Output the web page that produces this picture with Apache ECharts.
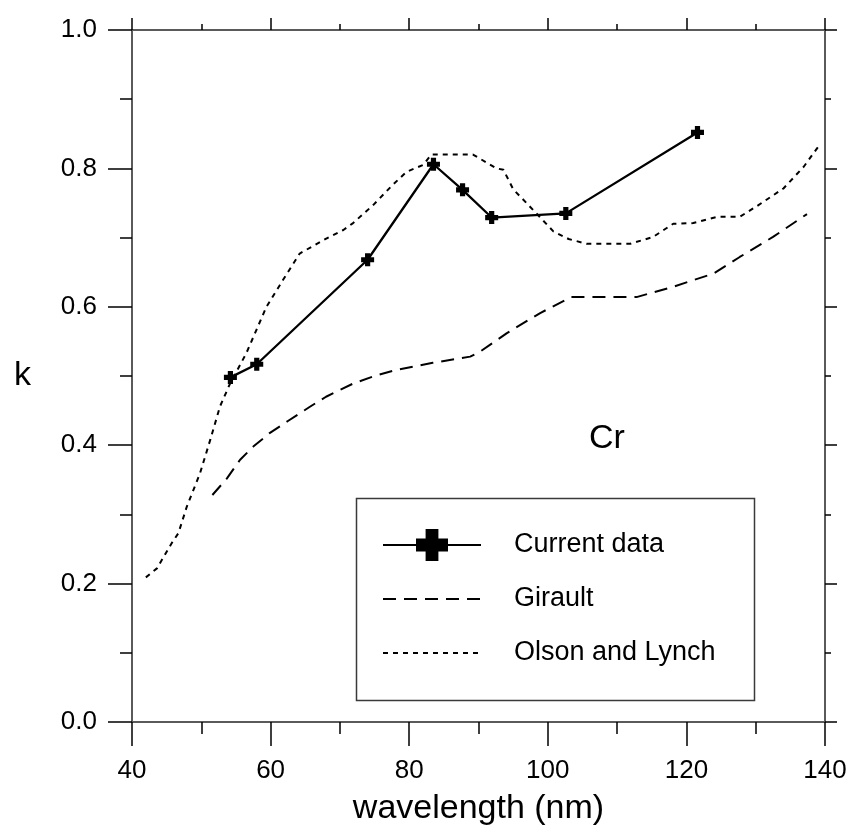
<!DOCTYPE html>
<html>
<head>
<meta charset="utf-8">
<script src="https://cdn.jsdelivr.net/npm/echarts@6/dist/echarts.min.js"></script>
<style>html,body{margin:0;padding:0;background:#fff}#c{width:853px;height:831px}</style>
</head>
<body>
<div id="c"></div>
<script>
// Current data (wavelength nm, k)
const currentX = [54.2, 58.0, 74.0, 83.5, 87.7, 91.9, 102.6, 121.6];
const currentK = [0.498, 0.517, 0.668, 0.806, 0.769, 0.729, 0.735, 0.852];
// Girault
const giraultX = [51.6, 53.7, 55.6, 57.5, 59.8, 62.5, 65.9, 68.0, 71.9, 75.0, 78.2, 83.4, 88.8, 90.2, 94.1, 98.9, 103.4, 108.0, 112.8, 118.1, 123.9, 127.7, 132.5, 137.4];
const giraultK = [0.328, 0.352, 0.379, 0.398, 0.417, 0.435, 0.457, 0.470, 0.489, 0.500, 0.509, 0.519, 0.528, 0.535, 0.562, 0.591, 0.614, 0.614, 0.614, 0.629, 0.648, 0.672, 0.701, 0.734];
// Olson and Lynch
const olsonX = [42.0, 43.6, 45.7, 46.7, 47.9, 49.8, 51.3, 52.7, 54.1, 56.5, 59.4, 61.8, 64.2, 68.1, 70.5, 71.9, 74.8, 77.5, 79.6, 82.0, 83.2, 89.2, 92.6, 93.6, 95.0, 97.4, 100.8, 103.0, 105.6, 111.9, 115.2, 118.1, 121.0, 124.4, 127.7, 130.1, 134.0, 136.9, 139.0];
const olsonK = [0.209, 0.222, 0.258, 0.273, 0.311, 0.359, 0.408, 0.456, 0.488, 0.533, 0.600, 0.639, 0.677, 0.699, 0.711, 0.721, 0.747, 0.775, 0.795, 0.805, 0.820, 0.820, 0.800, 0.798, 0.770, 0.745, 0.709, 0.698, 0.691, 0.691, 0.701, 0.720, 0.721, 0.730, 0.730, 0.745, 0.771, 0.802, 0.831];
// Axis ticks
const xTicks = { min: 40, max: 140, interval: 20 };
const yTicks = { min: 0, max: 1, interval: 0.2 };
const seriesNames = ['Current data', 'Girault', 'Olson and Lynch'];

const zip = (xs, ys) => xs.map((x, i) => [x, ys[i]]);
const FONT = '"Liberation Sans", Arial, Helvetica, sans-serif';
const plus = 'path://M3,0h4v3h3v4h-3v3h-4v-3h-3v-4h3z';

function axisCommon(main) {
  return {
    type: 'value',
    axisLine: { show: true, onZero: false, lineStyle: { color: '#5a5a5a', width: 2 } },
    axisTick: { show: true, inside: false, length: main ? 24 : 12, lineStyle: { color: '#000', width: 1.5 } },
    minorTick: { show: true, splitNumber: 2, length: main ? 12 : 6, lineStyle: { color: '#000', width: 1.5 } },
    splitLine: { show: false },
    minorSplitLine: { show: false }
  };
}

const chart = echarts.init(document.getElementById('c'), null, { renderer: 'canvas' });
chart.setOption({
  animation: false,
  backgroundColor: '#fff',
  textStyle: { fontFamily: FONT },
  grid: { left: 132, top: 30, right: 28, bottom: 109, outerBoundsMode: 'none', containLabel: false },
  xAxis: [
    Object.assign(axisCommon(true), {
      position: 'bottom', min: xTicks.min, max: xTicks.max, interval: xTicks.interval,
      axisLabel: { show: true, margin: 36, fontSize: 26, color: '#000', fontFamily: FONT },
      name: 'wavelength (nm)', nameLocation: 'middle', nameGap: 70,
      nameTextStyle: { fontSize: 34, color: '#000', fontFamily: FONT }
    }),
    Object.assign(axisCommon(false), {
      position: 'top', min: xTicks.min, max: xTicks.max, interval: xTicks.interval,
      axisLabel: { show: false }
    })
  ],
  yAxis: [
    Object.assign(axisCommon(true), {
      position: 'left', min: yTicks.min, max: yTicks.max, interval: yTicks.interval,
      axisLabel: { show: true, margin: 35, fontSize: 26, color: '#000', fontFamily: FONT, formatter: v => v.toFixed(1) },
      name: 'k', nameLocation: 'middle', nameRotate: 0, nameGap: 101,
      nameTextStyle: { fontSize: 34, color: '#000', fontFamily: FONT }
    }),
    Object.assign(axisCommon(false), {
      position: 'right', min: yTicks.min, max: yTicks.max, interval: yTicks.interval,
      axisLabel: { show: false }
    })
  ],
  legend: {
    orient: 'vertical', left: 382, top: 529, padding: 0,
    itemWidth: 98, itemHeight: 40, itemGap: 22,
    textStyle: { fontSize: 27, color: '#000', fontFamily: FONT, padding: [0, 0, 0, 28] },
    data: [
      { name: seriesNames[0] },
      { name: seriesNames[1], itemStyle: { color: 'rgba(0,0,0,0)', borderWidth: 0 } },
      { name: seriesNames[2], itemStyle: { color: 'rgba(0,0,0,0)', borderWidth: 0 } }
    ]
  },
  graphic: [
    { type: 'rect', left: 354, top: 496, shape: { width: 398, height: 202 }, style: { fill: 'none', stroke: '#3a3a3a', lineWidth: 1.5 }, z: 1 },
    { type: 'text', left: 589, top: 422, style: { text: 'Cr', fontSize: 34, fill: '#000', fontFamily: FONT } }
  ],
  series: [
    {
      name: seriesNames[0], type: 'line', xAxisIndex: 0, yAxisIndex: 0,
      data: zip(currentX, currentK),
      symbol: plus, symbolSize: 13, showSymbol: true,
      lineStyle: { color: '#000', width: 2.3 }, itemStyle: { color: '#000' }, z: 5
    },
    {
      name: seriesNames[1], type: 'line', xAxisIndex: 0, yAxisIndex: 0,
      data: zip(giraultX, giraultK), symbol: 'none',
      lineStyle: { color: '#000', width: 2, type: [13, 8] }, itemStyle: { color: '#000' }
    },
    {
      name: seriesNames[2], type: 'line', xAxisIndex: 0, yAxisIndex: 0,
      data: zip(olsonX, olsonK), symbol: 'none',
      lineStyle: { color: '#000', width: 2, type: [5, 5] }, itemStyle: { color: '#000' }
    }
  ]
});
</script>
</body>
</html>
